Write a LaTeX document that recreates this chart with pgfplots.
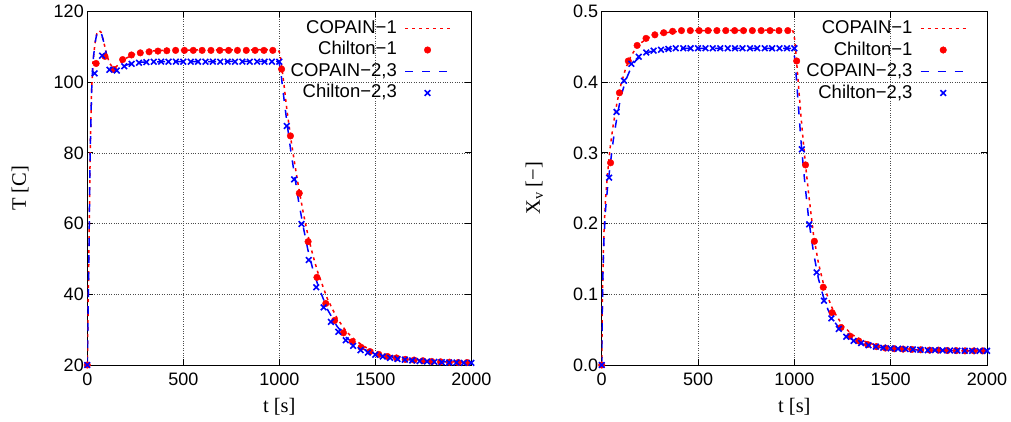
\documentclass[border=0pt]{standalone}
\usepackage{fontspec}
\setmainfont{Liberation Sans}
\newfontfamily\seriffont{Liberation Serif}
\usepackage{pgfplots}
\usepackage{pgfplotstable}
\pgfplotsset{compat=1.18}

% ---------- left plot data ----------
\pgfplotstableread{
t T
0 20
8 50
15 80
22 97
30 106
40 111
50 113.8
62 114.6
72 114.1
85 111.5
100 108
115 105.5
130 104.3
145 104.2
160 104.8
180 105.8
200 106.7
230 107.6
260 108.2
300 108.6
350 108.9
400 109
500 109.1
990 109.2
1000 108.6
1008 106.5
1015 103.5
1025 99
1040 92
1060 84
1080 77
1100 70.5
1125 63
1150 56.5
1175 51
1200 46.3
1250 38.8
1300 33.3
1350 29.4
1400 26.8
1450 25
1500 23.8
1550 23
1600 22.4
1700 21.6
1800 21.2
1900 20.9
2000 20.8
}\copainA

\pgfplotstableread{
t T
0 20
8 50
15 80
22 97
30 106
40 111
50 113.8
62 114.6
72 114.1
85 111.5
100 107.8
115 104.8
130 103.3
145 103.1
160 103.5
180 104.2
200 104.8
230 105.3
260 105.6
300 105.7
400 105.8
990 105.9
1000 105.3
1008 103
1015 99.5
1025 95
1040 88.5
1060 80.5
1080 73.5
1100 66.5
1125 59
1150 52.3
1175 47
1200 42.8
1250 35.8
1300 31
1350 27.7
1400 25.6
1450 24.2
1500 23.2
1550 22.5
1600 22
1700 21.3
1800 21
1900 20.8
2000 20.7
}\copainB

\pgfplotstableread{
t T
0 20
46 105.3
92 107.3
138 103.6
184 106.4
230 107.7
276 108.3
322 108.6
368 108.8
414 108.9
460 109
506 109
552 109
598 109
644 109
690 109
736 109
782 109
828 109
874 109
920 109
966 109
1012 103.7
1058 84.8
1104 68.6
1150 54.9
1196 44.8
1242 37.4
1288 32.6
1334 29.1
1380 26.6
1426 25.0
1472 23.8
1518 23.0
1564 22.4
1610 22.0
1656 21.6
1702 21.4
1748 21.2
1794 21.0
1840 20.9
1886 20.8
1932 20.7
1978 20.7
}\chiltonA

\pgfplotstableread{
t T
0 20
38.5 102.5
76.9 107.5
115.4 103.5
153.8 103.3
192.3 104.5
230.8 105.2
269.2 105.5
307.7 105.7
346.2 105.8
384.6 105.8
423.1 105.8
461.5 105.8
500 105.8
538.5 105.8
576.9 105.8
615.4 105.8
653.8 105.8
692.3 105.8
730.8 105.8
769.2 105.8
807.7 105.8
846.2 105.8
884.6 105.8
923.1 105.8
961.5 105.8
1000 105.8
1038.5 87.6
1076.9 72.5
1115.4 59.9
1153.8 49.7
1192.3 42.0
1230.8 36.3
1269.2 32.2
1307.7 29.4
1346.2 27.0
1384.6 25.4
1423.1 24.2
1461.5 23.5
1500 22.9
1538.5 22.4
1576.9 22.0
1615.4 21.7
1653.8 21.5
1692.3 21.3
1730.8 21.1
1769.2 21.0
1807.7 20.9
1846.2 20.8
1884.6 20.7
1923.1 20.7
1961.5 20.6
2000 20.6
}\chiltonB

% ---------- right plot data ----------
\pgfplotstableread{
t X
0 0
3 0.08
7 0.14
12 0.19
20 0.235
30 0.27
45 0.31
60 0.34
80 0.372
100 0.397
125 0.42
150 0.436
175 0.447
200 0.455
250 0.464
300 0.469
400 0.472
500 0.473
990 0.474
998 0.468
1005 0.452
1012 0.428
1020 0.40
1035 0.35
1050 0.305
1060 0.278
1075 0.24
1100 0.183
1125 0.144
1150 0.116
1175 0.095
1200 0.078
1250 0.056
1300 0.043
1350 0.035
1400 0.030
1450 0.027
1500 0.025
1600 0.0225
1700 0.021
1800 0.0205
2000 0.020
}\copainAx

\pgfplotstableread{
t X
0 0
3 0.08
7 0.135
12 0.18
20 0.22
30 0.25
45 0.285
60 0.318
80 0.352
100 0.38
125 0.403
150 0.419
175 0.43
200 0.436
250 0.443
300 0.446
400 0.448
990 0.448
998 0.443
1005 0.425
1012 0.40
1020 0.37
1035 0.315
1050 0.27
1060 0.243
1075 0.205
1100 0.158
1125 0.122
1150 0.097
1175 0.078
1200 0.064
1250 0.046
1300 0.036
1350 0.030
1400 0.027
1450 0.0245
1500 0.0233
1600 0.0215
1700 0.0207
1800 0.0203
2000 0.020
}\copainBx

\pgfplotstableread{
t X
0 0
46 0.286
92 0.385
138 0.430
184 0.452
230 0.462
276 0.467
322 0.470
368 0.472
414 0.473
460 0.473
506 0.473
552 0.473
598 0.473
644 0.473
690 0.473
736 0.473
782 0.473
828 0.473
874 0.473
920 0.473
966 0.473
1012 0.430
1058 0.283
1104 0.175
1150 0.110
1196 0.074
1242 0.053
1288 0.041
1334 0.034
1380 0.029
1426 0.026
1472 0.024
1518 0.023
1564 0.0225
1610 0.022
1656 0.0215
1702 0.021
1748 0.021
1794 0.0205
1840 0.0203
1886 0.020
1932 0.020
1978 0.020
}\chiltonAx

\pgfplotstableread{
t X
0 0
38.5 0.265
76.9 0.358
115.4 0.402
153.8 0.426
192.3 0.436
230.8 0.442
269.2 0.4446
307.7 0.446
346.2 0.447
384.6 0.448
423.1 0.448
461.5 0.448
500 0.448
538.5 0.448
576.9 0.448
615.4 0.448
653.8 0.448
692.3 0.448
730.8 0.448
769.2 0.448
807.7 0.448
846.2 0.448
884.6 0.448
923.1 0.448
961.5 0.448
1000 0.448
1038.5 0.305
1076.9 0.199
1115.4 0.131
1153.8 0.091
1192.3 0.066
1230.8 0.051
1269.2 0.040
1307.7 0.034
1346.2 0.031
1384.6 0.028
1423.1 0.026
1461.5 0.0245
1500 0.0235
1538.5 0.023
1576.9 0.0225
1615.4 0.022
1653.8 0.0215
1692.3 0.021
1730.8 0.021
1769.2 0.0207
1807.7 0.0205
1846.2 0.0203
1884.6 0.0202
1923.1 0.020
1961.5 0.020
2000 0.020
}\chiltonBx

\pgfplotsset{
  gnu/.style={
    scale only axis,
    width=384pt, height=353.5pt,
    xmin=0, xmax=2000,
    xtick={0,500,1000,1500,2000},
    tick align=inside,
    tick pos=both,
    major tick length=6pt,
    axis line style={line width=0.9pt},
    every tick/.style={black, line width=0.8pt},
    grid=major,
    major grid style={dotted, black!70, line width=0.7pt},
    tick label style={font=\fontsize{18}{20}\selectfont},
    xticklabel style={yshift=-4pt},
    /pgf/number format/assume math mode=true,
    /pgf/number format/1000 sep={},
    xlabel style={font=\seriffont\fontsize{20.5}{22}\selectfont, at={(axis description cs:0.5,-0.118)}, anchor=center},
    ylabel style={font=\seriffont\fontsize{20.5}{22}\selectfont, at={(axis description cs:-0.175,0.5)}, anchor=center, rotate=0},
    legend style={draw=none, fill=none, at={(rel axis cs:0.955,0.985)}, anchor=north east,
      font=\fontsize{18.5}{20}\selectfont,
      nodes={inner sep=1.5pt, text height=13pt, text depth=3pt},
      row sep=2.5pt, column sep=6pt},
    legend plot pos=right,
    legend cell align=right,
  },
  linelegend/.style={legend image code/.code={\draw[##1, draw=#1] (0pt,0pt) -- (45pt,0pt);}},
  marklegend/.style={legend image code/.code={\draw[##1] plot coordinates {(22.5pt,0pt)};}},
}

\begin{document}
\begin{tikzpicture}
\path[use as bounding box] (-87.3pt,-57pt) rectangle (923.7pt,365pt);

\begin{axis}[gnu, at={(0pt,0pt)}, anchor=south west,
  ymin=20, ymax=120, ytick={20,40,60,80,100,120},
  xlabel={t [s]}, ylabel={T [C]}]
\addplot[red, line width=1.5pt, dash pattern=on 3pt off 4pt, linelegend=red] table[x=t,y=T] {\copainA};
\addlegendentry{COPAIN−1}
\addplot[red, only marks, mark=*, mark size=3.3pt, marklegend] table[x=t,y=T] {\chiltonA};
\addlegendentry{Chilton−1}
\addplot[blue, line width=1.5pt, dash pattern=on 8pt off 9pt, linelegend=blue] table[x=t,y=T] {\copainB};
\addlegendentry{COPAIN−2,3}
\addplot[blue, only marks, mark=x, mark size=4pt, line width=1.6pt, marklegend] table[x=t,y=T] {\chiltonB};
\addlegendentry{Chilton−2,3}
\end{axis}

\begin{axis}[gnu, at={(514.4pt,0pt)}, anchor=south west, width=385.3pt,
  ymin=0, ymax=0.5, ytick={0,0.1,0.2,0.3,0.4,0.5},
  yticklabel style={/pgf/number format/.cd, fixed, fixed zerofill, precision=1},
  xlabel={t [s]}, ylabel={X\textsubscript{v} [−]}]
\addplot[red, line width=1.5pt, dash pattern=on 3pt off 4pt, linelegend=red] table[x=t,y=X] {\copainAx};
\addlegendentry{COPAIN−1}
\addplot[red, only marks, mark=*, mark size=3.3pt, marklegend] table[x=t,y=X] {\chiltonAx};
\addlegendentry{Chilton−1}
\addplot[blue, line width=1.5pt, dash pattern=on 8pt off 9pt, linelegend=blue] table[x=t,y=X] {\copainBx};
\addlegendentry{COPAIN−2,3}
\addplot[blue, only marks, mark=x, mark size=4pt, line width=1.6pt, marklegend] table[x=t,y=X] {\chiltonBx};
\addlegendentry{Chilton−2,3}
\end{axis}
\end{tikzpicture}
\end{document}
